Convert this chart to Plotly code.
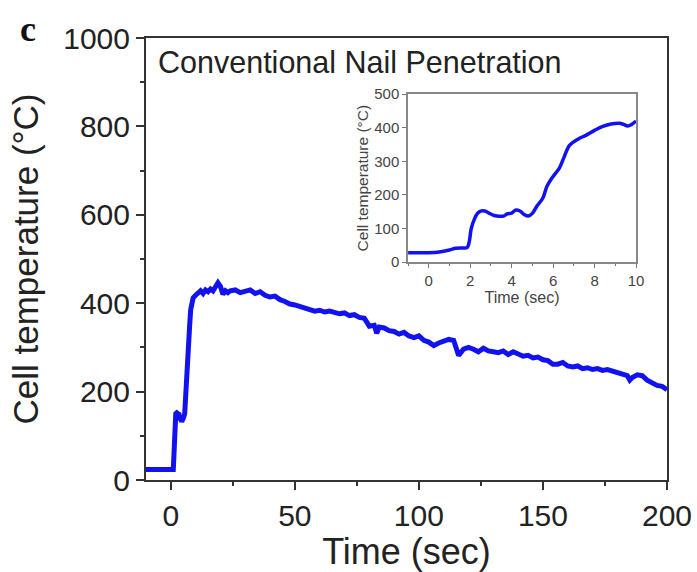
import plotly.graph_objects as go

# Full nail-penetration run: time (s) and cell temperature (°C)
time_main = [-10, -5, 0, 1.0, 1.3, 1.6, 2.0, 2.4, 2.8, 3.2, 3.6, 4.0, 4.4, 4.8,
             5.2, 5.6, 6.0, 6.4, 6.8, 7.2, 7.6, 8.0, 8.5, 9.0, 10, 11, 12, 13, 14,
             15, 16, 17, 18, 19, 20, 21, 22, 23, 24, 26, 28, 30, 32, 34, 36, 38,
             40, 42, 44, 46, 48, 50, 52, 54, 56, 58, 60, 62, 64, 66, 68, 70, 72,
             74, 76, 78, 79, 80, 82, 83, 84, 86, 88, 90, 92, 94, 96, 98, 100, 102,
             104, 106, 108, 110, 112, 114, 115, 116, 118, 120, 122, 124, 126, 128,
             130, 132, 134, 136, 138, 140, 142, 144, 146, 148, 150, 152, 154, 156,
             158, 160, 162, 164, 166, 168, 170, 172, 174, 176, 178, 180, 182, 184,
             185, 186, 188, 190, 192, 194, 196, 198, 200]
temp_main = [24, 24, 24, 24, 60, 120, 150, 152, 150, 152, 136, 138, 132, 136,
             142, 150, 200, 240, 280, 320, 350, 385, 405, 412, 418, 424, 428, 422, 430,
             426, 432, 428, 436, 446, 438, 420, 428, 424, 428, 430, 424, 428, 430,
             422, 426, 418, 414, 416, 408, 404, 398, 396, 392, 388, 384, 382, 384,
             380, 382, 378, 376, 378, 372, 374, 368, 366, 358, 348, 350, 332, 346,
             344, 338, 336, 330, 334, 326, 322, 326, 316, 312, 304, 310, 314, 318,
             316, 300, 282, 296, 300, 296, 290, 298, 292, 290, 288, 292, 284, 290,
             286, 280, 282, 276, 278, 272, 270, 262, 262, 266, 258, 256, 258, 252,
             254, 250, 252, 248, 250, 246, 244, 238, 236, 226, 232, 238, 236, 226,
             220, 214, 212, 204]

# First ten seconds, shown in the inset
time_zoom = [-1, -0.5, 0, 0.5, 1.0, 1.3, 1.6, 1.85, 1.95, 2.05, 2.2, 2.35, 2.5,
             2.7, 2.9, 3.1, 3.3, 3.6, 3.8, 4.0, 4.2, 4.4, 4.6, 4.8, 5.0, 5.2,
             5.5, 5.7, 6.0, 6.3, 6.5, 6.8, 7.2, 7.6, 8.0, 8.4, 8.8, 9.2, 9.4,
             9.6, 9.8, 10]
temp_zoom = [28, 28, 28, 30, 36, 41, 42, 43, 60, 100, 128, 145, 152, 152, 146,
             140, 137, 137, 144, 146, 155, 152, 142, 137, 145, 165, 190, 225,
             255, 280, 308, 348, 366, 378, 392, 404, 411, 413, 410, 405, 410, 420]

main_ticks = [0, 50, 100, 150, 200]
main_yticks = [0, 200, 400, 600, 800, 1000]
zoom_ticks = [0, 2, 4, 6, 8, 10]
zoom_yticks = [0, 100, 200, 300, 400, 500]

BLUE = "rgb(18,18,240)"
AX = "#333333"
FONT = "Liberation Sans, Arial, sans-serif"

fig = go.Figure()
fig.add_trace(go.Scatter(x=time_main, y=temp_main, mode="lines",
                         line=dict(color=BLUE, width=5), xaxis="x", yaxis="y",
                         showlegend=False))
fig.add_trace(go.Scatter(x=time_zoom, y=temp_zoom, mode="lines",
                         line=dict(color=BLUE, width=3.5, shape="spline"),
                         xaxis="x2", yaxis="y2", showlegend=False))

fig.update_layout(
    width=697, height=572,
    margin=dict(l=146, r=30, t=38, b=92),
    paper_bgcolor="white", plot_bgcolor="white",
    font=dict(family=FONT, color="#222222"),
    xaxis=dict(range=[-10, 200], tickvals=main_ticks, ticks="outside", ticklen=8,
               tickwidth=1.5, tickcolor=AX, showline=True, linecolor=AX, linewidth=2,
               mirror=True, showgrid=False, zeroline=False, automargin=False,
               tickfont=dict(size=30),
               minor=dict(tickvals=[25, 75, 125, 175], ticks="outside", ticklen=4,
                          tickcolor=AX),
               title=dict(text="Time (sec)", font=dict(size=36), standoff=8)),
    yaxis=dict(range=[0, 1000], tickvals=main_yticks, ticks="outside", ticklen=8,
               tickwidth=1.5, tickcolor=AX, showline=True, linecolor=AX, linewidth=2,
               mirror=True, showgrid=False, zeroline=False, automargin=False,
               tickfont=dict(size=30),
               minor=dict(tickvals=[100, 300, 500, 700, 900], ticks="outside",
                          ticklen=4, tickcolor=AX),
               title=dict(text="Cell temperature (°C)", font=dict(size=35), standoff=14)),
    xaxis2=dict(domain=[0.503, 0.9405], anchor="y2", range=[-1, 10],
                tickvals=zoom_ticks, ticks="outside", ticklen=4, tickcolor="#777",
                showline=True, linecolor="#888", linewidth=1.5, mirror=True,
                showgrid=False, zeroline=False, automargin=False,
                tickfont=dict(size=15, color="#444"),
                minor=dict(tickvals=[-1, 1, 3, 5, 7, 9], ticks="outside", ticklen=2,
                           tickcolor="#777"),
                title=dict(text="Time (sec)", font=dict(size=16, color="#444"),
                           standoff=2)),
    yaxis2=dict(domain=[0.493, 0.873], anchor="x2", range=[0, 500],
                tickvals=zoom_yticks, ticks="outside", ticklen=4, tickcolor="#777",
                showline=True, linecolor="#888", linewidth=1.5, mirror=True,
                showgrid=False, zeroline=False, automargin=False,
                tickfont=dict(size=15, color="#444"),
                title=dict(text="Cell temperature (°C)",
                           font=dict(size=15.5, color="#444"), standoff=2)),
    annotations=[
        dict(text="Conventional Nail Penetration", xref="paper", yref="paper",
             x=0.02, y=0.946, xanchor="left", yanchor="middle", showarrow=False,
             font=dict(size=30.5, color="#222222")),
        dict(text="<b>c</b>", xref="paper", yref="paper", x=-0.245, y=1.02,
             xanchor="left", yanchor="middle", showarrow=False,
             font=dict(size=36, family="Liberation Serif, Times New Roman, serif",
                       color="#111111")),
    ],
)

fig.write_html("out.html")
